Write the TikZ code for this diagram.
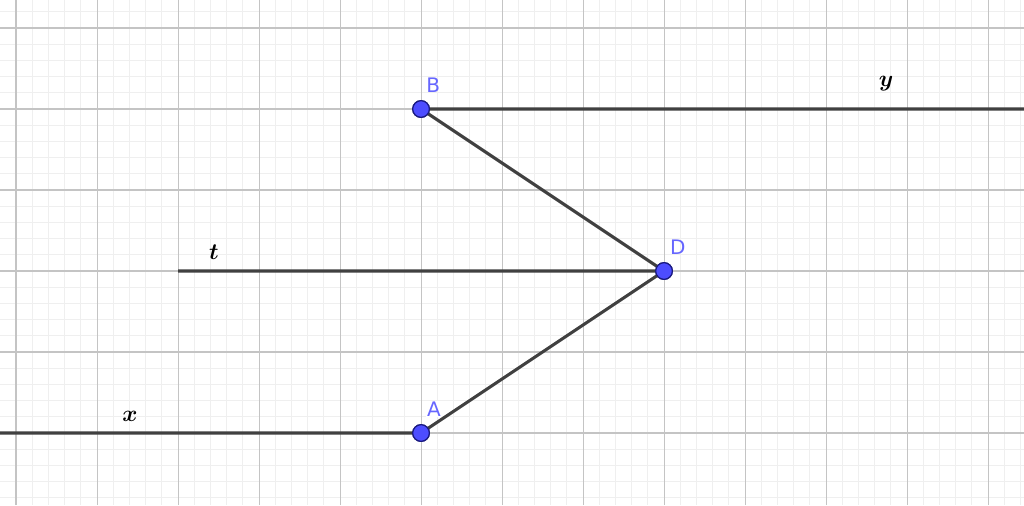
\documentclass[tikz,border=0pt]{standalone}
\usepackage{fontspec}
\usepackage{amsmath}
\newfontfamily\ptfont{DejaVu Sans}
\tikzset{> = stealth}
\definecolor{ptfill}{HTML}{4D4DFF}
\definecolor{ptborder}{HTML}{1A1A80}
\definecolor{ptlabel}{HTML}{6666FF}
\definecolor{segcol}{HTML}{404040}
\definecolor{minorgrid}{HTML}{EFEFEF}
\definecolor{majorgrid}{HTML}{C4C4C4}
\tikzset{
  pt/.style = {circle, fill=ptfill, draw=ptborder, line width=0.9pt, inner sep=0pt, minimum size=12.5pt},
  ptname/.style = {text=ptlabel, font=\ptfont\fontsize{15}{17}\selectfont, inner sep=0.5pt},
  linename/.style = {font=\fontsize{19}{21}\selectfont},
  seg/.style = {draw=segcol, line width=2.3pt}
}

\begin{document}
\begin{tikzpicture}[x=60.75pt, y=60.75pt]
% background and grid
\useasboundingbox (-5.198,-0.889) rectangle (7.444,5.346);
\fill[white] (-5.198,-0.889) rectangle (7.444,5.346);
\draw[minorgrid, line width=0.6pt, step=0.2] (-5.198,-0.889) grid (7.444,5.346);
\draw[majorgrid, line width=0.8pt, step=1] (-5.198,-0.889) grid (7.444,5.346);
% nodes
\coordinate (xend) at (-5.198, 0);
\coordinate (yend) at (7.444, 4);
\coordinate (tend) at (-3, 2);
\node[pt] (A) at (0, 0) {};
\node[pt] (B) at (0, 4) {};
\node[pt] (D) at (3, 2) {};
% edges
\draw[seg]
(xend) -- (A.center)
(B.center) -- (yend)
(tend) -- (D.center)
(B.center) -- (D.center)
(D.center) -- (A.center);
% labels
\node[ptname, fill=white] (lA) at (0.16, 0.3) {A};
\node[ptname] (lB) at (0.15, 4.3) {B};
\node[ptname] (lD) at (3.17, 2.3) {D};
\node[linename] (lt) at (-2.556, 2.235) {$\boldsymbol{t}$};
\node[linename] (lx) at (-3.593, 0.21) {$\boldsymbol{x}$};
\node[linename] (ly) at (5.741, 4.309) {$\boldsymbol{y}$};
% points on top
\node[pt] at (A) {};
\node[pt] at (B) {};
\node[pt] at (D) {};
\end{tikzpicture}
\end{document}
